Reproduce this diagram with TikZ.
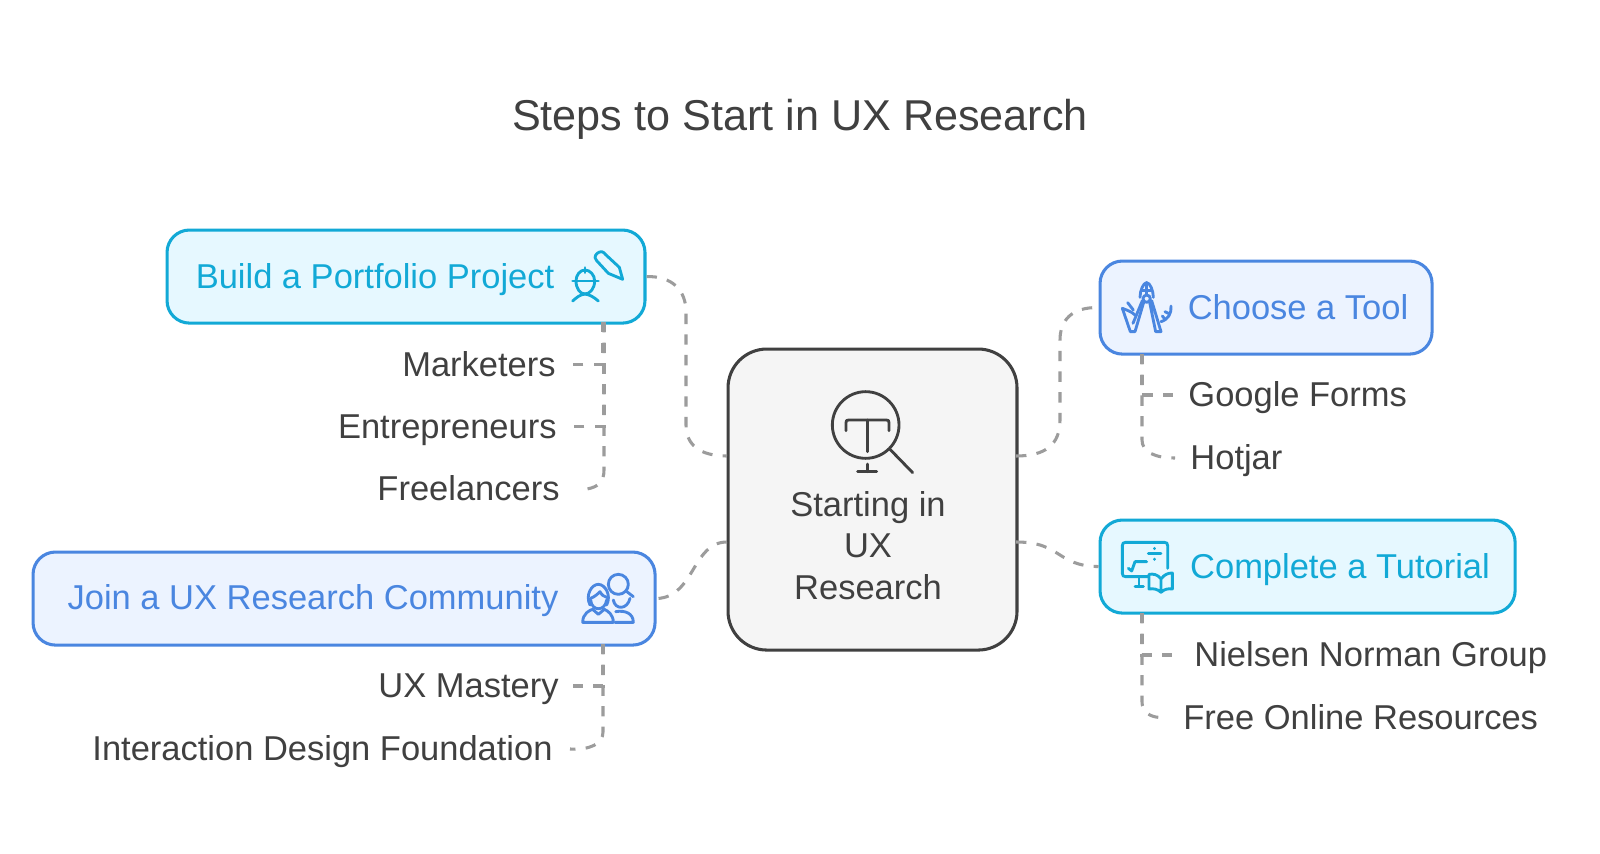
\documentclass[tikz,border=0pt]{standalone}
\usepackage{fontspec}
\setmainfont{Liberation Sans}
\definecolor{cyanline}{HTML}{12A9D6}
\definecolor{cyanfill}{HTML}{E6F8FF}
\definecolor{blueline}{HTML}{4A86E0}
\definecolor{bluefill}{HTML}{ECF3FF}
\definecolor{darktext}{HTML}{404040}
\definecolor{connline}{HTML}{9C9C9C}
\definecolor{centerfill}{HTML}{F5F5F5}
\tikzset{
  box/.style={draw=#1line,fill=#1fill,line width=1.5pt,rounded corners=11pt,inner sep=0pt,anchor=north west},
  head/.style={font=\fontsize{16.9}{20}\selectfont,text=#1line,inner sep=0pt},
  sub/.style={font=\fontsize{16.9}{20}\selectfont,text=darktext,text height=15pt,text depth=3.5pt,inner ysep=0pt},
  subl/.style={sub,anchor=east,inner xsep=#1*0.49pt},
  subr/.style={sub,anchor=west,inner xsep=#1*0.49pt},
  conn/.style={draw=connline,line width=1.5pt,dash pattern=on 5.1pt off 5.03pt},
  ico/.style={draw=#1,line width=1.4pt,line cap=round,line join=round},
}
\begin{document}
\begin{tikzpicture}[x=0.49pt,y=-0.49pt]
\useasboundingbox (0,0) rectangle (1600,854);
\fill[white] (0,0) rectangle (1600,854);
\node[font=\fontsize{21.15}{25}\selectfont,text=darktext,inner sep=0pt] (title) at (800,119) {Steps to Start in UX Research};

% boxes
\node[box=cyan,minimum width=234.2pt,minimum height=45.6pt] (build) at (165.5,228.5) {};
\node[box=blue,minimum width=162.7pt,minimum height=45.6pt] (choose) at (1098.5,259.5) {};
\node[box=cyan,minimum width=203.4pt,minimum height=45.6pt] (complete) at (1098.5,518.5) {};
\node[box=blue,minimum width=304.8pt,minimum height=45.6pt] (join) at (31.5,550.5) {};
\node[draw=darktext,fill=centerfill,line width=1.5pt,rounded corners=19pt,inner sep=0pt,anchor=north west,minimum width=141.6pt,minimum height=147.5pt] (center) at (726.5,347.5) {};

% box texts
\node[head=cyan] (buildtext) at (375,279.5) {Build a Portfolio Project};
\node[head=blue] (choosetext) at (1298,307) {Choose a Tool};
\node[head=cyan] (completetext) at (1340,570) {Complete a Tutorial};
\node[head=blue] (jointext) at (313,601) {Join a UX Research Community};
\node[font=\fontsize{16.9}{20.4}\selectfont,text=darktext,align=center,inner sep=0pt] (centertext) at (868,545.5) {Starting in\\UX\\Research};

% sub items
\node[subl=16] (marketers) at (572,364.3) {Marketers};
\node[subl=15] (entre) at (572,426.5) {Entrepreneurs};
\node[subl=27] (free) at (587,489) {Freelancers};
\node[subl=13] (mastery) at (572,686) {UX Mastery};
\node[subl=17] (idf) at (570,749) {Interaction Design Foundation};
\node[subr=15] (google) at (1173,395) {Google Forms};
\node[subr=15] (hotjar) at (1175,458) {Hotjar};
\node[subr=21] (nielsen) at (1173,655) {Nielsen Norman Group};
\node[subr=23] (online) at (1160,717.5) {Free Online Resources};

% ports
\coordinate (cwtop) at (727,456);
\coordinate (cwbot) at (727,542);
\coordinate (cetop) at (1016,456);
\coordinate (cebot) at (1016,542);
\coordinate (bp) at (603,322);
\coordinate (jp) at (603,644);
\coordinate (cp) at (1142,354);
\coordinate (tp) at (1142,613);

% main connectors
\draw[conn] (build.east) .. controls (672,276) and (686,290) .. (686,312) -- (686,425) .. controls (686,445) and (700,456) .. (cwtop);
\draw[conn] (cetop) .. controls (1045,456) and (1060,445) .. (1060,420) -- (1060,340) .. controls (1060,320) and (1072,307) .. (choose.west);
\draw[conn] (cebot) .. controls (1062,542) and (1056,566) .. (complete.west);
\draw[conn] (cwbot) .. controls (692,542) and (695,597) .. (join.east);

% tree connectors
\draw[conn] (bp) -- (603,364.3) -- (marketers.east);
\draw[conn] (bp) ++(1,0) -- (604,426.5) -- (entre.east);
\draw[conn] (bp) ++(1,0) -- (604,470) .. controls (604,482) and (598,487) .. (free.east);
\draw[conn] (jp) -- (603,686) -- (mastery.east);
\draw[conn] (jp) -- (603,732) .. controls (603,744) and (590,750) .. (idf.east);
\draw[conn] (cp) -- (1142,395) -- (google.west);
\draw[conn] (cp) -- (1142,440) .. controls (1142,452) and (1155,458) .. (hotjar.west);
\draw[conn] (tp) -- (1142,655) -- (nielsen.west);
\draw[conn] (tp) -- (1142,702) .. controls (1142,712) and (1150,717) .. (online.west);

% magnifier icon
\begin{scope}[shift={(780,360)},x=0.16333pt,y=-0.16333pt]
\draw[ico=darktext] (257,195) circle[radius=100];
\draw[ico=darktext] (330,268) -- (398,338);
\draw[ico=darktext] (198,212) -- (198,188) .. controls (198,182) and (200,180) .. (206,180) -- (319,180) .. controls (325,180) and (327,182) .. (327,188) -- (327,212);
\draw[ico=darktext] (262,180) -- (262,275);
\draw[ico=darktext] (262,312) -- (262,335) (233,335) -- (290,335);
\end{scope}

% engineer and pencil icon
\begin{scope}[shift={(540,220)},x=0.16333pt,y=-0.16333pt]
\draw[ico=cyanline] (165,113) .. controls (165,103) and (175,95) .. (185,95) .. controls (190,95) and (193,100) .. (196,103) -- (238,142) -- (248,178) -- (205,160) -- (170,122) .. controls (167,119) and (165,116) .. (165,113);
\draw[ico=cyanline] (98,183) -- (175,183);
\draw[ico=cyanline] (108,183) .. controls (108,165) and (120,150) .. (135,150) .. controls (150,150) and (164,165) .. (164,183);
\draw[ico=cyanline] (135,143) -- (135,158);
\draw[ico=cyanline] (108,183) .. controls (108,205) and (120,222) .. (135,222) .. controls (150,222) and (164,205) .. (164,183);
\draw[ico=cyanline] (98,243) .. controls (110,232) and (120,224) .. (135,222) .. controls (150,224) and (162,232) .. (175,243);
\end{scope}

% compass icon
\begin{scope}[shift={(1085,260)},x=0.16333pt,y=-0.16333pt]
\draw[ico=blueline] (165,112) .. controls (165,92) and (175,68) .. (185,68) .. controls (195,68) and (205,92) .. (205,112);
\draw[ico=blueline] (185,68) -- (185,105) (170,92) -- (200,92);
\draw[ico=blueline] (185,116) circle[radius=11];
\draw[ico=blueline] (176,127) -- (150,215) -- (136,215) -- (112,145);
\draw[ico=blueline] (172,122) -- (144,190);
\draw[ico=blueline] (194,127) -- (212,215) -- (228,215) -- (200,122);
\draw[ico=blueline] (112,145) .. controls (125,150) and (140,155) .. (150,165);
\draw[ico=blueline] (128,128) -- (145,150);
\draw[ico=blueline] (228,185) .. controls (250,178) and (260,160) .. (258,138);
\draw[ico=blueline] (240,155) -- (250,160) (232,168) -- (240,178);
\end{scope}

% tutorial icon
\begin{scope}[shift={(1085,515)},x=0.16333pt,y=-0.16333pt]
\draw[ico=cyanline] (190,185) -- (122,185) .. controls (115,185) and (112,182) .. (112,175) -- (112,92) .. controls (112,85) and (115,82) .. (122,82) -- (238,82) .. controls (245,82) and (248,85) .. (248,92) -- (248,160);
\draw[ico=cyanline] (162,185) -- (162,215) (150,215) -- (175,215);
\draw[ico=cyanline] (130,160) -- (140,168) -- (150,140) -- (185,140);
\draw[ico=cyanline] (190,116) -- (228,116) (208,100) -- (208,101) (208,132) -- (208,133);
\draw[ico=cyanline] (228,192) .. controls (218,178) and (205,176) .. (192,178) -- (192,222) .. controls (205,220) and (218,222) .. (228,232) .. controls (238,222) and (250,220) .. (262,222) -- (262,174) .. controls (250,174) and (238,178) .. (228,192) -- (228,232);
\end{scope}

% people icon
\begin{scope}[shift={(550,545)},x=0.16333pt,y=-0.16333pt]
\draw[ico=blueline] (205,118) circle[radius=30];
\draw[ico=blueline] (228,138) -- (250,155);
\draw[ico=blueline] (190,165) .. controls (195,195) and (232,195) .. (240,160);
\draw[ico=blueline] (197,200) .. controls (225,195) and (250,205) .. (250,232) -- (195,232);
\draw[ico=blueline] (120,180) .. controls (105,150) and (125,118) .. (145,118) .. controls (165,118) and (185,150) .. (170,180);
\draw[ico=blueline] (122,160) .. controls (135,155) and (145,145) .. (150,140) .. controls (155,150) and (162,155) .. (172,158);
\draw[ico=blueline] (122,165) .. controls (125,200) and (165,200) .. (170,165);
\draw[ico=blueline] (98,232) .. controls (98,205) and (120,195) .. (128,193) -- (145,208) -- (163,193) .. controls (175,198) and (190,210) .. (190,232) -- cycle;
\end{scope}
\end{tikzpicture}
\end{document}
